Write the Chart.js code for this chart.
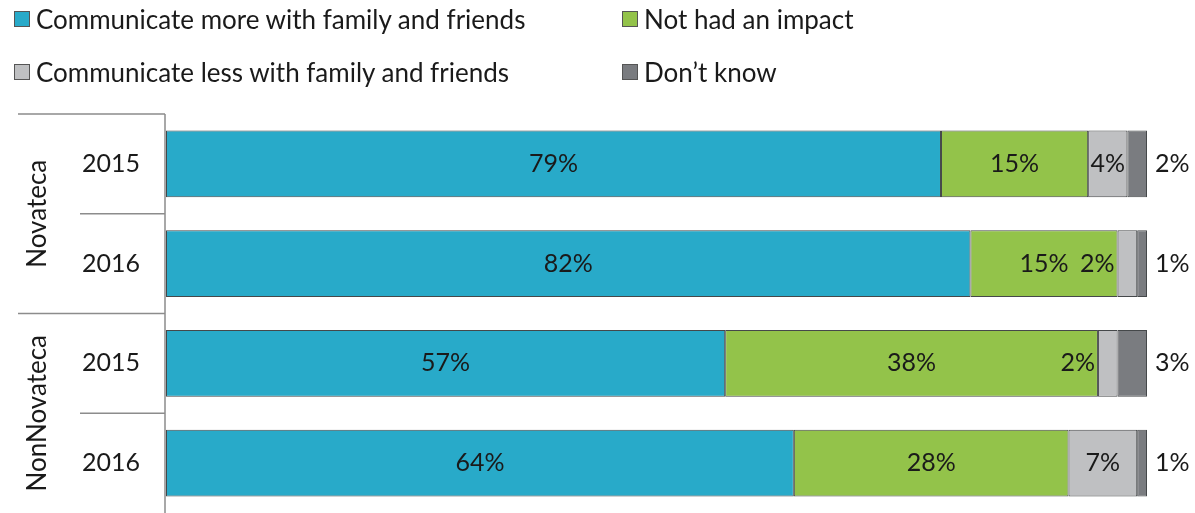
<!DOCTYPE html>
<html>
<head>
<meta charset="utf-8">
<script src="https://cdn.jsdelivr.net/npm/chart.js@4"></script>
<style>
  html, body { margin: 0; padding: 0; background: #fff; }
  #wrap { position: relative; width: 1195px; height: 513px; overflow: hidden; }
  #chart { position: absolute; left: 0; top: 0; }
  .legend { position: absolute; font-family: Lato, sans-serif; font-size: 26px; color: #1a1a1a; }
  .legend .item { position: absolute; white-space: nowrap; display: flex; align-items: center; }
  .legend .box { width: 14px; height: 14px; border: 1px solid #555; margin-right: 6px; }
</style>
</head>
<body>
<div id="wrap">
  <canvas id="chart" width="1195" height="513"></canvas>
  <div class="legend" id="legend"></div>
</div>
<script>
const groups = ['Novateca', 'NonNovateca'];
const years = ['2015', '2016', '2015', '2016'];
const seriesNames = [
  'Communicate more with family and friends',
  'Not had an impact',
  'Communicate less with family and friends',
  'Don\u2019t know'
];
const moreValues = [79, 82, 57, 64];
const noImpactValues = [15, 15, 38, 28];
const lessValues = [4, 2, 2, 7];
const dontKnowValues = [2, 1, 3, 1];

const colors = ['#28aac9', '#93c34a', '#bfc0c2', '#7a7c80'];
const legendPos = [[14, 3], [622, 3], [14, 56], [622, 56]];

const legendEl = document.getElementById('legend');
seriesNames.forEach((name, i) => {
  const item = document.createElement('div');
  item.className = 'item';
  item.style.left = legendPos[i][0] + 'px';
  item.style.top = legendPos[i][1] + 'px';
  item.innerHTML = '<span class="box" style="background:' + colors[i] + '"></span><span>' + name + '</span>';
  legendEl.appendChild(item);
});

const FONT = '25px Lato, sans-serif';
const GROUP_FONT = '26px Lato, sans-serif';

const sidePlugin = {
  id: 'side',
  afterDraw(chart) {
    const ctx = chart.ctx;
    const area = chart.chartArea;
    const y = chart.scales.y;
    const step = y.getPixelForValue(1) - y.getPixelForValue(0);
    ctx.save();
    ctx.strokeStyle = '#8c8c8c';
    ctx.lineWidth = 1.5;
    ctx.beginPath();
    ctx.moveTo(area.left - 1, area.top);
    ctx.lineTo(area.left - 1, chart.height);
    for (let i = 0; i < years.length; i++) {
      const top = y.getPixelForValue(i) - step / 2;
      const startX = i % 2 === 0 ? 18 : 80;
      ctx.moveTo(startX, top);
      ctx.lineTo(area.left - 1, top);
    }
    ctx.stroke();

    ctx.fillStyle = '#1a1a1a';
    ctx.font = FONT;
    ctx.textAlign = 'center';
    ctx.textBaseline = 'middle';
    years.forEach((yr, i) => {
      ctx.fillText(yr, 111, y.getPixelForValue(i));
    });
    ctx.font = GROUP_FONT;
    groups.forEach((g, i) => {
      const cy = (y.getPixelForValue(i * 2) + y.getPixelForValue(i * 2 + 1)) / 2;
      ctx.save();
      ctx.translate(38, cy);
      ctx.rotate(-Math.PI / 2);
      ctx.fillText(g, 0, 0);
      ctx.restore();
    });

    // value labels
    ctx.font = FONT;
    chart.data.datasets.forEach((ds, di) => {
      const meta = chart.getDatasetMeta(di);
      meta.data.forEach((bar, i) => {
        const v = ds.data[i];
        const text = v + '%';
        const left = Math.min(bar.x, bar.base);
        const right = Math.max(bar.x, bar.base);
        if (di === 3) {
          ctx.textAlign = 'left';
          ctx.fillText(text, area.right + 8, bar.y);
        } else if (di === 2 && v < 3) {
          ctx.textAlign = 'right';
          ctx.fillText(text, left - 3, bar.y);
        } else {
          ctx.textAlign = 'center';
          ctx.fillText(text, (left + right) / 2, bar.y);
        }
      });
    });
    ctx.restore();
  }
};

const valueLists = [moreValues, noImpactValues, lessValues, dontKnowValues];

new Chart(document.getElementById('chart'), {
  type: 'bar',
  data: {
    labels: years.map((yr, i) => groups[Math.floor(i / 2)] + ' ' + yr),
    datasets: seriesNames.map((name, i) => ({
      label: name,
      data: valueLists[i],
      backgroundColor: colors[i],
      borderColor: '#45484a',
      borderWidth: 1,
      borderSkipped: false,
      categoryPercentage: 1,
      barPercentage: 0.67
    }))
  },
  options: {
    indexAxis: 'y',
    responsive: false,
    animation: false,
    layout: { padding: { left: 166, right: 48, top: 114, bottom: -1 } },
    plugins: { legend: { display: false }, tooltip: { enabled: false } },
    scales: {
      x: { stacked: true, min: 0, max: 100, display: false },
      y: { stacked: true, display: false }
    }
  },
  plugins: [sidePlugin]
});
</script>
</body>
</html>
